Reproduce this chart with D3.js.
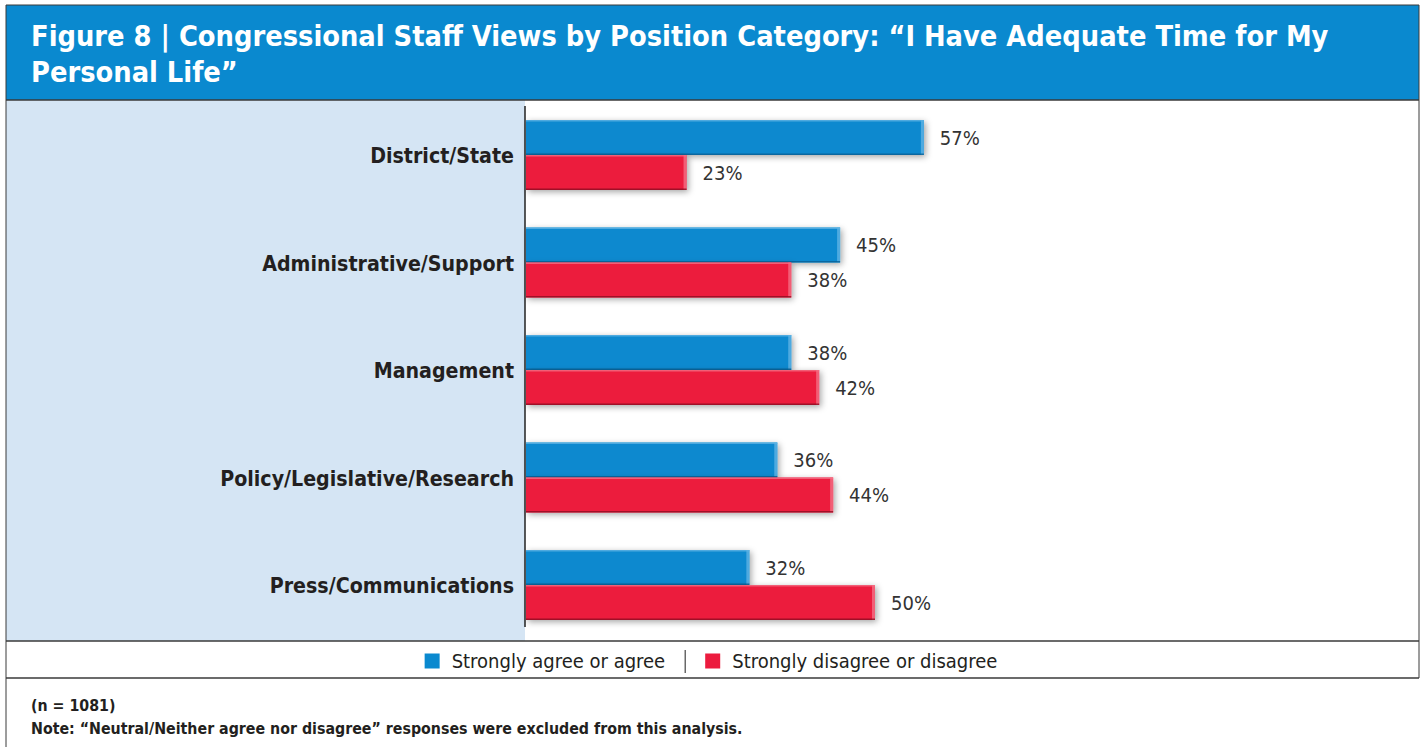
<!DOCTYPE html>
<html>
<head>
<meta charset="utf-8">
<script src="https://cdn.jsdelivr.net/npm/d3@7"></script>
<style>
  html, body { margin: 0; padding: 0; background: #ffffff; }
  svg { display: block; }
</style>
</head>
<body>
<svg id="chart" width="1424" height="747"></svg>
<script>
// Position categories, top to bottom
const categories = [
  "District/State",
  "Administrative/Support",
  "Management",
  "Policy/Legislative/Research",
  "Press/Communications"
];
// Percent who strongly agree or agree
const agreeValues = [57, 45, 38, 36, 32];
// Percent who strongly disagree or disagree
const disagreeValues = [23, 38, 42, 44, 50];
const seriesNames = ["Strongly agree or agree", "Strongly disagree or disagree"];
const titleLines = [
  "Figure 8 | Congressional Staff Views by Position Category: \u201cI Have Adequate Time for My",
  "Personal Life\u201d"
];
const footnotes = [
  "(n = 1081)",
  "Note: \u201cNeutral/Neither agree nor disagree\u201d responses were excluded from this analysis."
];

const W = 1424, H = 747;
const BLUE = "#0a89cf", RED = "#ec1b3e", INK = "#231f20", PANEL = "#d5e5f4", FRAME = "#3a3a3a";
const FONT = '"Liberation Sans Narrow", "DejaVu Sans Condensed", "Arial Narrow", sans-serif';

const svg = d3.select("#chart");

// Soft drop shadow for bars
const defs = svg.append("defs");
const f = defs.append("filter").attr("id", "shadow")
  .attr("x", "-5%").attr("y", "-30%").attr("width", "115%").attr("height", "170%");
f.append("feDropShadow").attr("dx", 2).attr("dy", 2).attr("stdDeviation", 3)
  .attr("flood-color", "#000").attr("flood-opacity", 0.35);

// Frame geometry
const frameL = 6, frameR = 1419, frameT = 5;
const titleBottom = 100, plotBottom = 641, legendBottom = 678;
const axisX = 525;

// Title band
svg.append("rect").attr("x", frameL).attr("y", frameT).attr("width", frameR - frameL).attr("height", titleBottom - frameT)
  .attr("fill", BLUE);
// Label panel
svg.append("rect").attr("x", frameL).attr("y", titleBottom).attr("width", axisX - frameL).attr("height", plotBottom - titleBottom)
  .attr("fill", PANEL);

// Frame lines
const frame = svg.append("g").attr("stroke", FRAME).attr("fill", "none");
frame.append("line").attr("x1", frameL).attr("x2", frameL).attr("y1", frameT).attr("y2", H);
frame.append("line").attr("x1", frameR).attr("x2", frameR).attr("y1", frameT).attr("y2", legendBottom);
frame.append("line").attr("x1", frameL).attr("x2", frameR).attr("y1", frameT).attr("y2", frameT);
frame.append("line").attr("x1", frameL).attr("x2", frameR).attr("y1", titleBottom).attr("y2", titleBottom).attr("stroke-width", 1.5);
frame.append("line").attr("x1", frameL).attr("x2", frameR).attr("y1", plotBottom).attr("y2", plotBottom).attr("stroke-width", 1.5);
frame.append("line").attr("x1", frameL).attr("x2", frameR).attr("y1", legendBottom).attr("y2", legendBottom).attr("stroke-width", 1.5);

// Title
svg.append("g").selectAll("text").data(titleLines).join("text")
  .attr("x", 31).attr("y", (d, i) => 46 + i * 36)
  .attr("fill", "#ffffff").attr("font-family", FONT).attr("font-weight", "bold")
  .attr("font-size", 28.7).text(d => d);

// Scales
const x = d3.scaleLinear().domain([0, 100]).range([axisX + 1, axisX + 1 + 698]);
const y = d3.scaleBand().domain(categories).range([101.25, 638.75]).paddingInner(0).paddingOuter(0);
const barH = 35;

// Category axis
const yAxis = svg.append("g").attr("transform", `translate(${axisX},0)`)
  .call(d3.axisLeft(y).tickSize(0).tickPadding(11));
yAxis.select(".domain").remove();
yAxis.selectAll("text").attr("font-family", FONT).attr("font-weight", "bold")
  .attr("font-size", 21.2).attr("fill", INK).attr("dy", "0.38em");

svg.append("line").attr("x1", axisX).attr("x2", axisX).attr("y1", 106).attr("y2", 627)
  .attr("stroke", "#222").attr("stroke-width", 1.5);

// Bars
const rows = categories.map((c, i) => ({ cat: c, agree: agreeValues[i], disagree: disagreeValues[i] }));
const series = [
  { key: "agree", color: BLUE, hi: "#5fb3e3", lo: "#0a5f93", off: -barH },
  { key: "disagree", color: RED, hi: "#f46f84", lo: "#8d0c22", off: 0 }
];

const barsG = svg.append("g");
series.forEach(s => {
  const g = barsG.append("g");
  const cy = d => y(d.cat) + y.bandwidth() / 2 + s.off;
  g.selectAll("rect.bar").data(rows).join("rect").attr("class", "bar")
    .attr("x", x(0)).attr("y", cy).attr("width", d => x(d[s.key]) - x(0)).attr("height", barH)
    .attr("fill", s.color).attr("filter", "url(#shadow)");
  // bevel: light top and right edges, dark bottom edge
  g.selectAll("rect.hiTop").data(rows).join("rect").attr("class", "hiTop")
    .attr("x", x(0)).attr("y", cy).attr("width", d => x(d[s.key]) - x(0)).attr("height", 1.5)
    .attr("fill", s.hi).attr("opacity", 0.8);
  g.selectAll("rect.hiRight").data(rows).join("rect").attr("class", "hiRight")
    .attr("x", d => x(d[s.key]) - 3).attr("y", cy).attr("width", 3).attr("height", barH)
    .attr("fill", s.hi).attr("opacity", 0.8);
  g.selectAll("rect.loBottom").data(rows).join("rect").attr("class", "loBottom")
    .attr("x", x(0)).attr("y", d => cy(d) + barH - 1.5).attr("width", d => x(d[s.key]) - x(0)).attr("height", 1.5)
    .attr("fill", s.lo).attr("opacity", 0.8);
  // value labels
  g.selectAll("text").data(rows).join("text")
    .attr("x", d => x(d[s.key]) + 16).attr("y", d => cy(d) + barH / 2)
    .attr("dy", "0.36em").attr("font-family", FONT).attr("font-size", 20).attr("fill", "#333")
    .text(d => d[s.key] + "%");
});

// Legend: swatch, label, divider, swatch, label — laid out from measured widths, centred
const legend = svg.append("g");
const legY = 661, sw = 15, gapSw = 12, gapDiv = 20;
const legendColors = [BLUE, RED];
const items = seriesNames.map((name, i) => {
  const t = legend.append("text").attr("y", legY).attr("dy", "0.36em")
    .attr("font-family", FONT).attr("font-size", 20).attr("fill", INK).text(name);
  return { t, w: t.node().getComputedTextLength(), color: legendColors[i] };
});
const totalW = items[0].w + items[1].w + 2 * (sw + gapSw) + 2 * gapDiv;
let cx = 711 - totalW / 2;
items.forEach((it, i) => {
  legend.insert("rect", "text").attr("x", cx).attr("y", legY - 7.5).attr("width", sw).attr("height", sw).attr("fill", it.color);
  cx += sw + gapSw;
  it.t.attr("x", cx);
  cx += it.w;
  if (i === 0) {
    cx += gapDiv;
    legend.append("line").attr("x1", cx).attr("x2", cx).attr("y1", legY - 11).attr("y2", legY + 12)
      .attr("stroke", "#444").attr("stroke-width", 1.2);
    cx += gapDiv;
  }
});

// Footnotes
svg.append("g").selectAll("text").data(footnotes).join("text")
  .attr("x", 31).attr("y", (d, i) => 711 + i * 23)
  .attr("font-family", FONT).attr("font-weight", "bold").attr("font-size", 15.8).attr("fill", INK)
  .text(d => d);
</script>
</body>
</html>
